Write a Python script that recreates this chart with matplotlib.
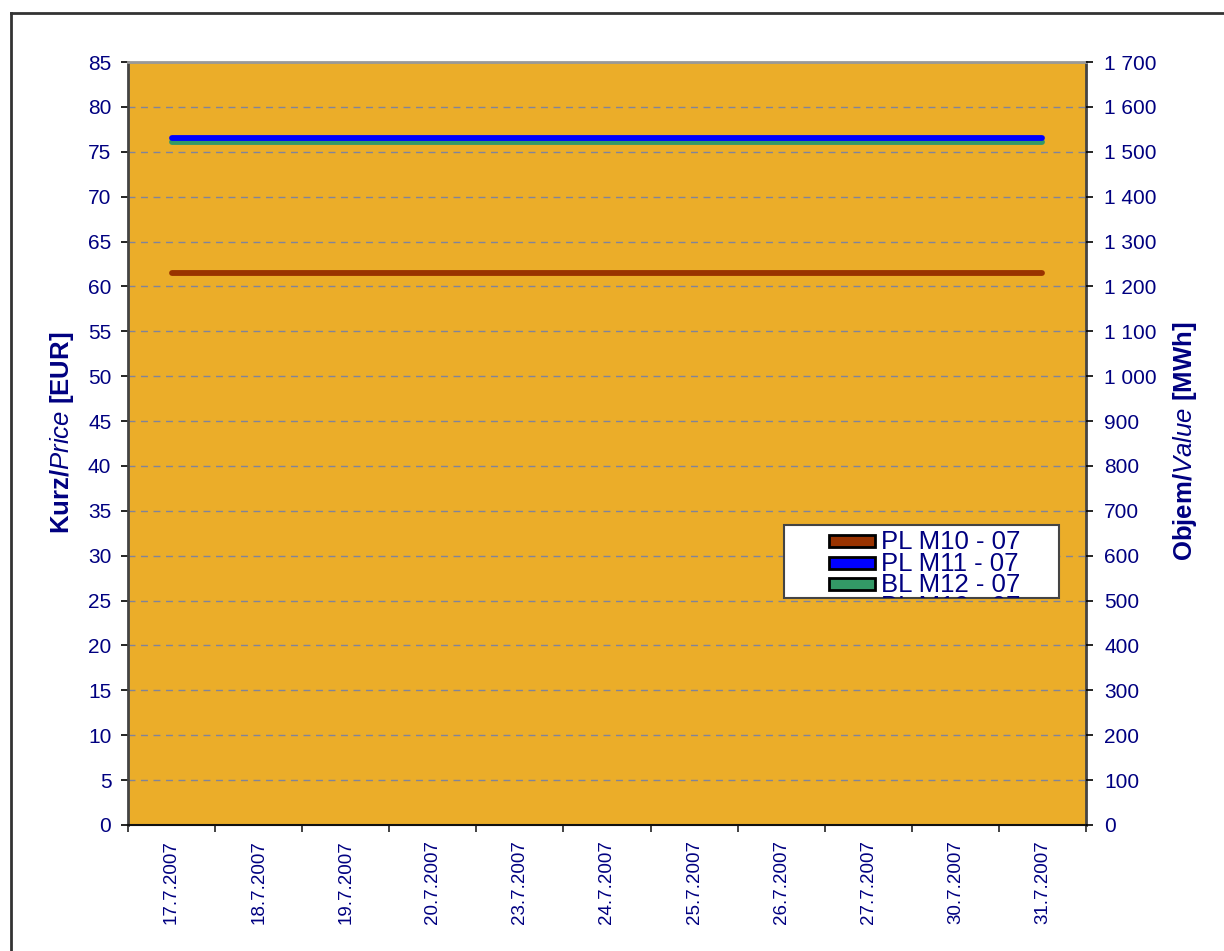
import matplotlib
matplotlib.use("Agg")
import matplotlib.pyplot as plt
from matplotlib.patches import Rectangle
from matplotlib.lines import Line2D
from matplotlib.ticker import FuncFormatter, MultipleLocator, FixedLocator

plt.rcParams['font.family'] = ['Liberation Sans', 'DejaVu Sans']
plt.rcParams['mathtext.fontset'] = 'custom'
plt.rcParams['mathtext.rm'] = 'Liberation Sans'
plt.rcParams['mathtext.it'] = 'Liberation Sans:italic'
plt.rcParams['mathtext.bf'] = 'Liberation Sans:bold'

dates = ["17.7.2007", "18.7.2007", "19.7.2007", "20.7.2007", "23.7.2007", "24.7.2007",
         "25.7.2007", "26.7.2007", "27.7.2007", "30.7.2007", "31.7.2007"]
series_names = ["PL M10 - 07", "PL M11 - 07", "BL M12 - 07", "BL M10 - 07"]
pl_m10 = [61.5] * 11
pl_m11 = [76.5] * 11
bl_m12 = [76.1] * 11
series_values = [pl_m10, pl_m11, bl_m12]
colors = ["#993300", "#0000FF", "#339966"]

W, H = 1224, 951
NAVY = "#000080"
fig = plt.figure(figsize=(W / 100, H / 100), dpi=100)
fig.subplots_adjust(left=128 / W, right=1086 / W, top=1 - 62 / H, bottom=1 - 825 / H)
ax = fig.add_subplot(111)
ax.set_facecolor("#EBAD29")

x = list(range(len(dates)))
# draw green first, then blue above, then brown
for i in [2, 1, 0]:
    ax.plot(x, series_values[i], color=colors[i], lw=4.2, solid_capstyle='round', zorder=3)

ax.set_xlim(-0.5, len(dates) - 0.5)
ax.set_ylim(0, 85)
ax.yaxis.set_major_locator(MultipleLocator(5))
ax.grid(axis='y', color='#80849a', linestyle=(0, (5, 4)), lw=1.0)
ax.set_axisbelow(True)

ax.xaxis.set_major_locator(FixedLocator(x))
ax.set_xticklabels(dates, rotation=90, color=NAVY, fontsize=13.5)
ax.xaxis.set_minor_locator(FixedLocator([i - 0.5 for i in range(len(dates) + 1)]))
ax.tick_params(axis='x', which='major', length=0, pad=11)
ax.tick_params(axis='x', which='minor', length=5, width=1.2, direction='out', color='#222222')
ax.tick_params(axis='y', length=5, width=1.2, direction='out', pad=7, labelsize=15, labelcolor=NAVY)

for s in ['left', 'right']:
    ax.spines[s].set_color('#444444')
    ax.spines[s].set_linewidth(2)
ax.spines['top'].set_color('#999999')
ax.spines['top'].set_linewidth(2)
ax.spines['bottom'].set_color('#111111')
ax.spines['bottom'].set_linewidth(1.5)

ax2 = ax.twinx()
ax2.set_ylim(0, 1700)
ax2.yaxis.set_major_locator(MultipleLocator(100))
ax2.yaxis.set_major_formatter(FuncFormatter(lambda v, p: f"{int(v):,}".replace(",", " ")))
ax2.tick_params(axis='y', length=5, width=1.2, direction='out', pad=8, labelsize=15, labelcolor=NAVY)
for s in ['left', 'right', 'top', 'bottom']:
    ax2.spines[s].set_visible(False)

fig.text(62 / W, 1 - 433 / H, r'$\mathbf{Kurz/}\mathit{Price}\ \mathbf{[EUR]}$', rotation=90,
         ha='center', va='center', color=NAVY, fontsize=18.5)
fig.text(1185 / W, 1 - 441 / H, r'$\mathbf{Objem/}\mathit{Value}\ \mathbf{[MWh]}$', rotation=90,
         ha='center', va='center', color=NAVY, fontsize=18.5)

# legend (manual)
def fx(px):
    return px / W

def fy(py):
    return 1 - py / H

box = Rectangle((fx(784), fy(598)), fx(1059) - fx(784), fy(525) - fy(598), transform=fig.transFigure,
                facecolor='white', edgecolor='#444444', lw=1.5, zorder=10)
fig.add_artist(box)
rows = [541, 563, 584, 606]
for i, name in enumerate(series_names):
    cy = rows[i]
    if i < 3:
        fig.add_artist(Rectangle((fx(829), fy(cy + 6)), fx(875) - fx(829), fy(cy - 6) - fy(cy + 6),
                                 transform=fig.transFigure, facecolor=colors[i], edgecolor='black',
                                 lw=2, zorder=11))
    t = fig.text(fx(881), fy(cy + 1), name, ha='left', va='center', color=NAVY, fontsize=18.5, zorder=12)
    t.set_clip_path(box)

# outer chart border
fig.add_artist(Line2D([fx(11), fx(11)], [fy(13), 0], transform=fig.transFigure, color='#333333', lw=2))
fig.add_artist(Line2D([fx(11), 1], [fy(13), fy(13)], transform=fig.transFigure, color='#333333', lw=2))

fig.savefig("out.png", dpi=100)
